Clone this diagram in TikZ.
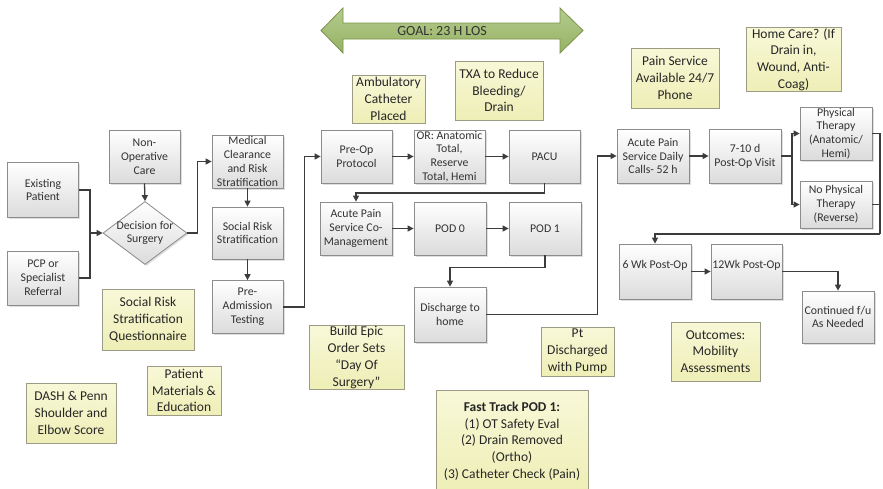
\documentclass[tikz,border=0pt]{standalone}
\usepackage{fontspec}
\setmainfont{Carlito}
\usetikzlibrary{shapes.geometric,shadows,arrows.meta}
\definecolor{boxline}{HTML}{8C8C8C}
\definecolor{boxtext}{HTML}{333333}
\definecolor{notefilltop}{HTML}{F8F8D8}
\definecolor{notefillbot}{HTML}{EEEEB6}
\definecolor{noteline}{HTML}{9C9C86}
\definecolor{arrowcol}{HTML}{3C3C3C}
\definecolor{goaltop}{HTML}{B4CB8E}
\definecolor{goalbot}{HTML}{96B263}
\definecolor{goalline}{HTML}{7A9348}
\tikzset{
 sz/.style 2 args={minimum width=#1pt, minimum height=#2pt},
 gbox/.style={draw=boxline, line width=0.8pt, top color=white, bottom color=black!14,
   drop shadow={shadow xshift=1.5pt, shadow yshift=-1.5pt, opacity=0.25},
   align=center, font=\fontsize{11.8}{13.8}\selectfont, text=boxtext, inner xsep=1pt, inner ysep=0pt},
 note/.style={draw=noteline, line width=0.8pt, top color=notefilltop, bottom color=notefillbot,
   align=center, font=\fontsize{13.5}{16.8}\selectfont, text=black!85, inner sep=1pt},
 arr/.style={draw=arrowcol, line width=1.3pt, -{Triangle[length=6pt,width=6pt]}},
 ln/.style={draw=arrowcol, line width=1.3pt},
}
\begin{document}
\begin{tikzpicture}[x=1pt,y=-1pt]
\useasboundingbox (0,0) rectangle (883,488);
\fill[white] (0,0) rectangle (883,488);

% goal arrow
\draw[draw=goalline, line width=0.8pt, top color=goaltop, bottom color=goalbot]
 (321,30.5) -- (343,8) -- (343,23) -- (560,23) -- (560,8) -- (583,30.5) -- (560,53) -- (560,39) -- (343,39) -- (343,53) -- cycle;
\node[font=\fontsize{14}{16}\selectfont, text=boxtext] (goal) at (442,31) {GOAL: 23 H LOS};

% gray process boxes
\node[gbox, sz={71}{55}] (ep) at (43,190) {Existing\\Patient};
\node[gbox, sz={71}{54}] (pcp) at (43,278) {PCP or\\Specialist\\Referral};
\node[gbox, sz={71}{53}] (nonop) at (144.5,156.5) {Non-\\Operative\\Care};
\node[draw=boxline, line width=0.8pt, diamond, top color=white, bottom color=black!14,
  drop shadow={shadow xshift=1.5pt, shadow yshift=-1.5pt, opacity=0.25},
  minimum width=84pt, minimum height=63pt, inner sep=0pt] (decd) at (145,233) {};
\node[align=center, font=\fontsize{11.8}{13.8}\selectfont, text=boxtext] (dect) at (145,233) {Decision for\\Surgery};
\node[gbox, sz={71}{53}] (med) at (247.5,161.5) {Medical\\Clearance\\and Risk\\Stratification};
\node[gbox, sz={71}{52}] (srs) at (247.5,233) {Social Risk\\Stratification};
\node[gbox, sz={71}{53}] (pat) at (247.5,307) {Pre-\\Admission\\Testing};
\node[gbox, sz={71}{53}] (preop) at (356.5,156.5) {Pre-Op\\Protocol};
\node[gbox, sz={71}{53}] (or) at (449.5,156.5) {OR: Anatomic\\Total,\\Reserve\\Total, Hemi};
\node[gbox, sz={71}{53}] (pacu) at (544.5,156.5) {PACU};
\node[gbox, sz={72}{53}] (apsc) at (356,228.5) {Acute Pain\\Service Co-\\Management};
\node[gbox, sz={72}{53}] (pod0) at (450,228.5) {POD 0};
\node[gbox, sz={72}{53}] (pod1) at (545,228.5) {POD 1};
\node[gbox, sz={72}{55}] (dis) at (450,314.5) {Discharge to\\home};
\node[gbox, sz={72}{54}] (apsd) at (653,156) {Acute Pain\\Service Daily\\Calls- 52 h};
\node[gbox, sz={72}{54}] (pov) at (745,156) {7-10 d\\Post-Op Visit};
\node[gbox, sz={72}{53}] (pt) at (836,133.5) {Physical\\Therapy\\(Anatomic/\\Hemi)};
\node[gbox, sz={72}{47}] (npt) at (836,204.5) {No Physical\\Therapy\\(Reverse)};
\node[gbox, sz={72}{55}] (wk6) at (655,271.5) {\raisebox{14pt}{6 Wk Post-Op}};
\node[gbox, sz={71}{55}] (wk12) at (746.5,271.5) {\raisebox{14pt}{12Wk Post-Op}};
\node[gbox, sz={72}{52}] (cont) at (838,317) {Continued f/u\\As Needed};

% yellow notes
\node[note, sz={73}{48}] (amb) at (388.5,99) {Ambulatory\\Catheter\\Placed};
\node[note, sz={88}{59}] (txa) at (499,90.5) {TXA to Reduce\\Bleeding/\\Drain};
\node[note, sz={88}{60}] (psa) at (675,78) {Pain Service\\Available 24/7\\Phone};
\node[note, sz={95}{63}] (home) at (793.5,59.5) {Home Care? (If\\Drain in,\\Wound, Anti-\\Coag)};
\node[note, sz={92}{61}] (srq) at (148,319.5) {Social Risk\\Stratification\\Questionnaire};
\node[note, sz={74}{49}] (pme) at (184,390.5) {Patient\\Materials \&\\Education};
\node[note, sz={90}{60}] (dash) at (71,413) {DASH \& Penn\\Shoulder and\\Elbow Score};
\node[note, sz={95}{63}] (epic) at (356.5,357.5) {Build Epic\\Order Sets\\``Day Of\\Surgery''};
\node[note, sz={73}{49}] (ptd) at (577.5,351.5) {Pt\\Discharged\\with Pump};
\node[note, sz={89}{59}] (out) at (715.5,351.5) {Outcomes:\\Mobility\\Assessments};
\node[note, sz={152}{102}, font=\fontsize{13.5}{16.8}\selectfont] (fast) at (512,441) {\textbf{Fast Track POD 1:}\\(1) OT Safety Eval\\(2) Drain Removed\\(Ortho)\\(3) Catheter Check (Pain)};

% connectors
\coordinate (j1) at (90,233);
\draw[ln] (ep.east) -| (j1);
\draw[ln] (pcp.east) -| (j1);
\draw[arr] (j1) -- (decd.west);
\draw[arr] (nonop.south) -- (decd.north);
\draw[arr] (decd.east) -- ++(10,0) |- (med.west);
\draw[arr] (med.south) -- (srs.north);
\draw[arr] (srs.south) -- (pat.north);
\draw[arr] (pat.east) -- ++(21,0) |- (preop.west);
\draw[arr] (preop.east) -- (or.west);
\draw[arr] (or.east) -- (pacu.west);
\draw[arr] (pacu.south) -- ++(0,9.5) -| (apsc.north);
\draw[arr] (apsc.east) -- (pod0.west);
\draw[arr] (pod0.east) -- (pod1.west);
\draw[arr] (pod1.south) -- ++(0,12) -| (dis.north);
\draw[arr] (dis.east) -- ++(111,0) |- (apsd.west);
\draw[arr] (apsd.east) -- (pov.west);
\coordinate (j2) at (792,156);
\draw[ln] (pov.east) -- (j2);
\draw[arr] (j2) |- (pt.west);
\draw[arr] (j2) |- (npt.west);
\coordinate (j3) at (880,234);
\draw[ln] (pt.east) -| (j3);
\draw[ln] (npt.east) -- (npt.east -| j3);
\draw[arr] (j3) -| (wk6.north);
\draw[arr] (wk6.east) -- (wk12.west);
\draw[arr] (wk12.east) -| (cont.north);
\end{tikzpicture}
\end{document}
